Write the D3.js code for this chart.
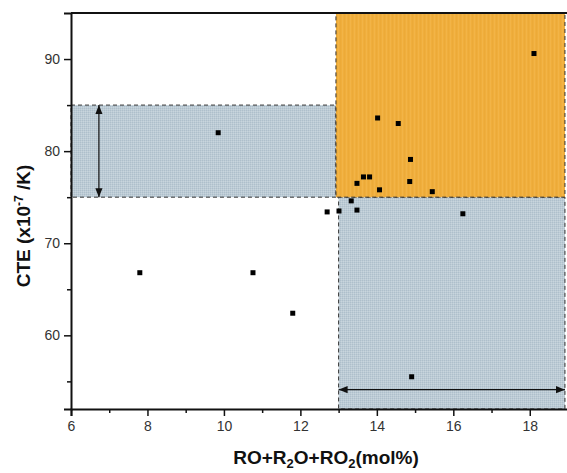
<!DOCTYPE html>
<html>
<head>
<meta charset="utf-8">
<script src="https://cdn.jsdelivr.net/npm/d3@7"></script>
<style>
  body { margin: 0; background: #fff; }
  svg { display: block; font-family: "Liberation Sans", Arial, sans-serif; }
</style>
</head>
<body>
<svg id="chart" width="567" height="473"></svg>
<script>
"use strict";

// composition (mol%) vs CTE (x10^-7 /K)
var xValues = [9.85, 12.7, 13.01, 18.11, 14.02, 14.56, 14.88, 13.65, 13.81, 13.48,
  14.86, 14.07, 15.45, 13.33, 13.48, 16.25, 7.8, 10.76, 11.8, 14.91];
var yValues = [82.0, 73.4, 73.5, 90.6, 83.6, 83.0, 79.1, 77.2, 77.2, 76.5,
  76.7, 75.8, 75.6, 74.6, 73.6, 73.2, 66.8, 66.8, 62.4, 55.5];

var xTicks = [6, 8, 10, 12, 14, 16, 18];
var yTicks = [60, 70, 80, 90];
var xMinor = [7, 9, 11, 13, 15, 17];
var yMinor = [55, 65, 75, 85];

// shaded regions: [x0, x1, y0, y1, kind]
var regions = [
  [6, 12.93, 75, 85, "blue"],
  [13, 18.92, 52, 75, "blue"],
  [12.93, 18.92, 75, 95, "orange"],
];

// double-ended arrows: [x0, y0, x1, y1]
var arrows = [
  [6.73, 85, 6.73, 75],
  [13, 54.1, 18.92, 54.1],
];

var svg = d3.select("#chart");
var x = d3.scaleLinear().domain([6, 19]).range([71, 568]);
var y = d3.scaleLinear().domain([52, 95]).range([409, 13]);

// textures
var defs = svg.append("defs");
var pb = defs.append("pattern")
  .attr("id", "pblue").attr("width", 2).attr("height", 2)
  .attr("patternUnits", "userSpaceOnUse");
pb.append("rect").attr("width", 2).attr("height", 2).attr("fill", "#bccbd5");
pb.append("rect").attr("width", 1).attr("height", 1).attr("fill", "#aebfcb");
pb.append("rect").attr("x", 1).attr("y", 1).attr("width", 1).attr("height", 1).attr("fill", "#c8d5dd");

var po = defs.append("pattern")
  .attr("id", "porange").attr("width", 4).attr("height", 4)
  .attr("patternUnits", "userSpaceOnUse");
po.append("rect").attr("width", 4).attr("height", 4).attr("fill", "#f0ae3c");
po.append("rect").attr("width", 1).attr("height", 4).attr("fill", "#ecaa38");
po.append("rect").attr("x", 2).attr("width", 1).attr("height", 4).attr("fill", "#f2b447");

// regions
svg.selectAll(".region")
  .data(regions)
  .enter()
  .append("rect")
  .attr("class", "region")
  .attr("x", function (d) { return x(d[0]); })
  .attr("y", function (d) { return y(d[3]); })
  .attr("width", function (d) { return x(d[1]) - x(d[0]); })
  .attr("height", function (d) { return y(d[2]) - y(d[3]); })
  .attr("fill", function (d) { return d[4] === "blue" ? "url(#pblue)" : "url(#porange)"; })
  .attr("stroke", "#333")
  .attr("stroke-width", 1)
  .attr("stroke-dasharray", "4,3");

// arrows
var mk = defs.append("marker")
  .attr("id", "ah").attr("viewBox", "0 0 10 10")
  .attr("refX", 10).attr("refY", 5)
  .attr("markerWidth", 9).attr("markerHeight", 9)
  .attr("markerUnits", "userSpaceOnUse")
  .attr("orient", "auto-start-reverse");
mk.append("path").attr("d", "M0,1 L10,5 L0,9 Z").attr("fill", "#111");

svg.selectAll(".arrow")
  .data(arrows)
  .enter()
  .append("line")
  .attr("class", "arrow")
  .attr("x1", function (d) { return x(d[0]); })
  .attr("y1", function (d) { return y(d[1]); })
  .attr("x2", function (d) { return x(d[2]); })
  .attr("y2", function (d) { return y(d[3]); })
  .attr("stroke", "#111")
  .attr("stroke-width", 1.2)
  .attr("marker-start", "url(#ah)")
  .attr("marker-end", "url(#ah)");

// points
svg.selectAll(".pt")
  .data(xValues)
  .enter()
  .append("rect")
  .attr("class", "pt")
  .attr("x", function (d) { return x(d) - 2.5; })
  .attr("y", function (d, i) { return y(yValues[i]) - 2.5; })
  .attr("width", 5)
  .attr("height", 5)
  .attr("fill", "#000");

// axes
svg.append("g")
  .attr("transform", "translate(0," + y(52) + ")")
  .call(d3.axisBottom(x).tickValues(xTicks).tickSize(7).tickPadding(5));
svg.append("g")
  .attr("transform", "translate(0," + y(52) + ")")
  .call(d3.axisBottom(x).tickValues(xMinor).tickSize(4).tickFormat(""))
  .call(function (g) { g.select(".domain").remove(); });

svg.append("g")
  .attr("transform", "translate(" + x(6) + ",0)")
  .call(d3.axisLeft(y).tickValues(yTicks).tickSize(7).tickPadding(4));
svg.append("g")
  .attr("transform", "translate(" + x(6) + ",0)")
  .call(d3.axisLeft(y).tickValues(yMinor).tickSize(4).tickFormat(""))
  .call(function (g) { g.select(".domain").remove(); });

svg.selectAll(".domain").attr("stroke", "#111").attr("stroke-width", 2);
svg.selectAll(".tick line").attr("stroke", "#111").attr("stroke-width", 1.5);
svg.selectAll(".tick text")
  .attr("fill", "#333")
  .style("font-size", "14px")
  .style("font-family", "'Liberation Sans', Arial, sans-serif");

// top frame
svg.append("line")
  .attr("x1", x(6)).attr("x2", 567)
  .attr("y1", y(95)).attr("y2", y(95))
  .attr("stroke", "#111").attr("stroke-width", 2);

// axis titles
var xt = svg.append("text")
  .attr("x", 326).attr("y", 464)
  .attr("text-anchor", "middle")
  .style("font-size", "19px").style("font-weight", "bold").attr("fill", "#111");
xt.append("tspan").text("RO+R");
xt.append("tspan").text("2").attr("dy", 4).style("font-size", "13px");
xt.append("tspan").text("O+RO").attr("dy", -4);
xt.append("tspan").text("2").attr("dy", 4).style("font-size", "13px");
xt.append("tspan").text("(mol%)").attr("dy", -4);

var yt = svg.append("text")
  .attr("transform", "translate(30,226) rotate(-90)")
  .attr("text-anchor", "middle")
  .style("font-size", "19px").style("font-weight", "bold").attr("fill", "#111");
yt.append("tspan").text("CTE (x10");
yt.append("tspan").text("-7").attr("dy", -7).style("font-size", "12px");
yt.append("tspan").text(" /K)").attr("dy", 7);
</script>
</body>
</html>
